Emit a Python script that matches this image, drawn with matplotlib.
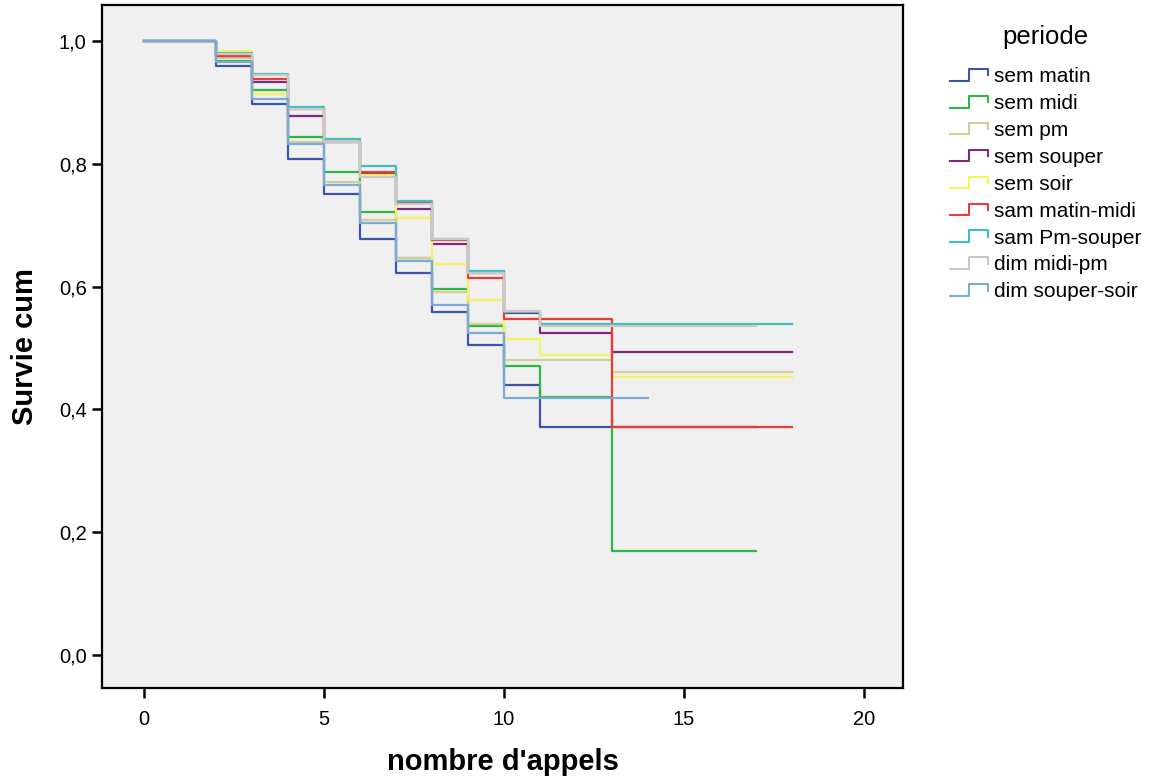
import numpy as np
import matplotlib
matplotlib.use('Agg')
import matplotlib.pyplot as plt
from matplotlib.lines import Line2D
from matplotlib.legend_handler import HandlerBase

plt.rcParams['font.family'] = ['Liberation Sans', 'DejaVu Sans']

# event times (step starts) shared by all groups
times = [0, 2, 3, 4, 5, 6, 7, 8, 9, 10, 11, 13]

labels = ['sem matin', 'sem midi', 'sem pm', 'sem souper', 'sem soir',
          'sam matin-midi', 'sam Pm-souper', 'dim midi-pm', 'dim souper-soir']
colors = ['#3D55A8', '#2DB845', '#D3CE97', '#7B2A7E', '#F7F35F',
          '#EA3A3A', '#3FC1C0', '#C8C8C8', '#7CA9D8']

sem_matin = [1, .959, .897, .807, .751, .678, .622, .559, .505, .440, .372, .372]
sem_midi = [1, .968, .920, .843, .787, .722, .647, .596, .536, .471, .420, .169]
sem_pm = [1, .972, .913, .835, .770, .708, .647, .591, .539, .480, .480, .461]
sem_souper = [1, .976, .933, .878, .835, .784, .726, .670, .622, .557, .525, .493]
sem_soir = [1, .983, .914, .889, .840, .781, .711, .637, .578, .514, .488, .453]
sam_matin_midi = [1, .975, .938, .889, .836, .787, .736, .676, .614, .548, .548, .372]
sam_pm_souper = [1, .981, .946, .893, .841, .796, .739, .677, .625, .558, .539, .539]
dim_midi_pm = [1, .978, .944, .889, .835, .778, .735, .677, .622, .560, .536, .536]
dim_souper_soir = [1, .966, .906, .833, .766, .703, .641, .570, .524, .418, .418, .418]

series = [sem_matin, sem_midi, sem_pm, sem_souper, sem_soir,
          sam_matin_midi, sam_pm_souper, dim_midi_pm, dim_souper_soir]
# last follow-up time for each group
end_times = [17, 17, 18, 18, 18, 18, 18, 17, 14]


class StepHandler(HandlerBase):
    def create_artists(self, legend, orig_handle, xdescent, ydescent,
                       width, height, fontsize, trans):
        xs = np.array([0, 0.5, 0.5, 1, 1]) * width - xdescent
        ys = np.array([0.1, 0.1, 0.9, 0.9, 0.45]) * height - ydescent
        ln = Line2D(xs, ys, color=orig_handle.get_color(), lw=1.5)
        ln.set_transform(trans)
        return [ln]


fig = plt.figure(figsize=(11.51, 7.84), dpi=100)
ax = fig.add_axes([102/1151, 1-688/784, 801/1151, 683/784])
ax.set_facecolor('#F0F0F0')

handles = []
for lab, col, vals, te in zip(labels, colors, series, end_times):
    x = list(times) + [te]
    y = list(vals) + [vals[-1]]
    h, = ax.step(x, y, where='post', color=col, lw=1.6, label=lab)
    handles.append(h)

ax.set_xlim(-1.167, 21.08)
ax.set_ylim(-0.0537, 1.0586)
ax.set_xticks([0, 5, 10, 15, 20])
ax.set_yticks([0, 0.2, 0.4, 0.6, 0.8, 1.0])
ax.set_yticklabels(['0,0', '0,2', '0,4', '0,6', '0,8', '1,0'])
ax.tick_params(direction='out', length=7, width=1.8, labelsize=14.5, pad=4)
ax.tick_params(axis='x', pad=9)
for s in ax.spines.values():
    s.set_linewidth(1.6)

ax.set_ylabel('Survie cum', fontsize=21, fontweight='bold', va='center')
ax.yaxis.set_label_coords(-0.096, 0.5)
ax.set_xlabel("nombre d'appels", fontsize=21, fontweight='bold', va='center')
ax.xaxis.set_label_coords(0.5, -0.108)

leg = fig.legend(handles=handles, labels=labels, loc='upper left',
                 bbox_to_anchor=(950/1151, 1-25/784), frameon=False,
                 handler_map={Line2D: StepHandler()}, fontsize=15,
                 title='periode', title_fontsize=18.5, borderpad=0,
                 handlelength=1.8, handletextpad=0.3, labelspacing=0.38,
                 borderaxespad=0)
leg._legend_box.sep = 13

fig.savefig('out.png', dpi=100)
